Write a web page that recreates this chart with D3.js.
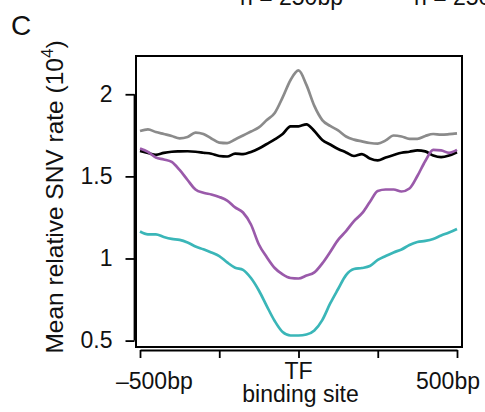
<html lang="en">
<head>
  <meta charset="UTF-8"/>
  <script src="https://d3js.org/d3.v7.min.js"></script>
  <style>
body {
  margin: 0;
  background: white;
  font-family: 'Liberation Sans', Arial, Helvetica, sans-serif;
}

svg {
  width: 485px;
  height: 412px;
  display: block;
}

text {
  font-family: 'Liberation Sans', Arial, Helvetica, sans-serif;
  font-size: 23px;
  fill: #111;
}

.line {
  fill: none;
  stroke-width: 2.7;
  stroke-linejoin: round;
}

.axis line, .axis path, .axisline {
  stroke: black;
  stroke-width: 1.8;
}

.frame {
  fill: none;
  stroke: black;
  stroke-width: 2;
}

text.panel {
  font-size: 28px;
}

text.ytitle {
  font-size: 24.5px;
}
</style>
</head>
<body>
<svg></svg>

<script>

  // distance from TF binding site (bp)
  const positions = [-500, -475, -450, -425, -400, -375, -350, -325, -300, -275,
    -250, -225, -200, -175, -150, -125, -100, -75, -50, -25,
    0, 25, 50, 75, 100, 125, 150, 175, 200, 225,
    250, 275, 300, 325, 350, 375, 400, 425, 450, 475, 500];

  const grayRate = [1.776, 1.786, 1.770, 1.758, 1.746, 1.732, 1.740, 1.767, 1.758, 1.731,
    1.706, 1.703, 1.725, 1.749, 1.773, 1.798, 1.843, 1.886, 1.981, 2.087,
    2.145, 2.057, 1.929, 1.843, 1.807, 1.780, 1.743, 1.724, 1.713, 1.703,
    1.699, 1.719, 1.749, 1.743, 1.728, 1.728, 1.746, 1.758, 1.754, 1.757, 1.762];

  const blackRate = [1.655, 1.643, 1.631, 1.643, 1.650, 1.652, 1.653, 1.650, 1.644, 1.638,
    1.624, 1.621, 1.638, 1.635, 1.649, 1.670, 1.697, 1.725, 1.758, 1.804,
    1.805, 1.817, 1.776, 1.722, 1.694, 1.667, 1.646, 1.624, 1.636, 1.609,
    1.597, 1.615, 1.630, 1.644, 1.650, 1.658, 1.652, 1.627, 1.617, 1.627, 1.647];

  const purpleRate = [1.670, 1.649, 1.615, 1.603, 1.588, 1.539, 1.478, 1.420, 1.400, 1.390,
    1.375, 1.353, 1.311, 1.280, 1.207, 1.085, 1.008, 0.942, 0.903, 0.881,
    0.878, 0.896, 0.915, 0.970, 1.040, 1.113, 1.167, 1.228, 1.274, 1.344,
    1.411, 1.420, 1.420, 1.408, 1.426, 1.502, 1.594, 1.661, 1.658, 1.643, 1.661];

  const cyanRate = [1.164, 1.147, 1.147, 1.131, 1.119, 1.113, 1.097, 1.073, 1.056, 1.037,
    1.015, 0.976, 0.944, 0.931, 0.881, 0.805, 0.710, 0.619, 0.552, 0.531,
    0.531, 0.537, 0.562, 0.625, 0.726, 0.814, 0.899, 0.936, 0.942, 0.954,
    0.991, 1.015, 1.037, 1.055, 1.082, 1.100, 1.107, 1.119, 1.140, 1.158, 1.180];

  const yTicks = [0.5, 1, 1.5, 2];
  const xTicks = [-500, -250, 0, 250, 500];
  const topLabels = ['n = 250bp', 'n = 250bp'];

  const series = [
    {values: grayRate, color: '#8b8b8b'},
    {values: blackRate, color: '#000000'},
    {values: purpleRate, color: '#9a5aaa'},
    {values: cyanRate, color: '#3ab6b8'}
  ];

  const svg = d3.select('svg');

  const box = {left: 136, right: 462, top: 56, bottom: 347};

  const x = d3.scaleLinear()
    .domain([-500, 500])
    .range([140, 457]);

  const y = d3.scaleLinear()
    .domain([0.461, 2.233])
    .range([box.bottom, box.top]);

  // lines
  const line = d3.line()
    .x((d, i) => x(positions[i]))
    .y(d => y(d))
    .curve(d3.curveMonotoneX);

  svg.selectAll('.line')
    .data(series)
    .enter().append('path')
    .attr('class', 'line')
    .attr('stroke', d => d.color)
    .attr('d', d => line(d.values));

  // frame
  svg.append('rect')
    .attr('class', 'frame')
    .attr('x', box.left)
    .attr('y', box.top)
    .attr('width', box.right - box.left)
    .attr('height', box.bottom - box.top);

  // y axis
  const yAxis = svg.append('g')
    .attr('class', 'axis')
    .attr('transform', 'translate(134.5,0)')
    .call(d3.axisLeft(y).tickValues(yTicks).tickSize(9).tickPadding(13)
      .tickFormat(d3.format('')));
  yAxis.select('.domain').remove();
  yAxis.selectAll('text')
    .attr('font-size', 23)
    .attr('font-family', "'Liberation Sans', Arial, sans-serif")
    .attr('fill', '#111');

  svg.append('line')
    .attr('class', 'axisline')
    .attr('x1', 134.5).attr('x2', 134.5)
    .attr('y1', y(yTicks[0])).attr('y2', y(yTicks[yTicks.length - 1]));

  // x axis
  svg.append('g')
    .attr('class', 'axis')
    .attr('transform', 'translate(0,350)')
    .call(d3.axisBottom(x).tickValues(xTicks).tickSize(8).tickSizeOuter(0)
      .tickFormat(''));

  svg.append('text')
    .attr('x', x(-500) - 24)
    .attr('y', 389)
    .text('\u2013500bp');

  svg.append('text')
    .attr('x', x(500) + 23)
    .attr('y', 389)
    .attr('text-anchor', 'end')
    .text('500bp');

  svg.append('text')
    .attr('x', x(0))
    .attr('y', 379)
    .attr('text-anchor', 'middle')
    .text('TF');

  svg.append('text')
    .attr('x', x(0) + 2)
    .attr('y', 402)
    .attr('text-anchor', 'middle')
    .text('binding site');

  // y title
  const yt = svg.append('text')
    .attr('class', 'ytitle')
    .attr('transform', 'translate(63,197) rotate(-90)')
    .attr('text-anchor', 'middle');
  yt.append('tspan').text('Mean relative SNV rate (10');
  yt.append('tspan').attr('dy', -10).attr('font-size', 17).text('4');
  yt.append('tspan').attr('dy', 10).text(')');

  // panel letter
  svg.append('text')
    .attr('class', 'panel')
    .attr('x', 11)
    .attr('y', 35)
    .text('C');

  // clipped labels from the panel above
  svg.selectAll('.toplabel')
    .data(topLabels)
    .enter().append('text')
    .attr('class', 'toplabel')
    .attr('x', (d, i) => i === 0 ? 240 : 414)
    .attr('y', 5)
    .text(d => d);

</script>
</body>
</html>
